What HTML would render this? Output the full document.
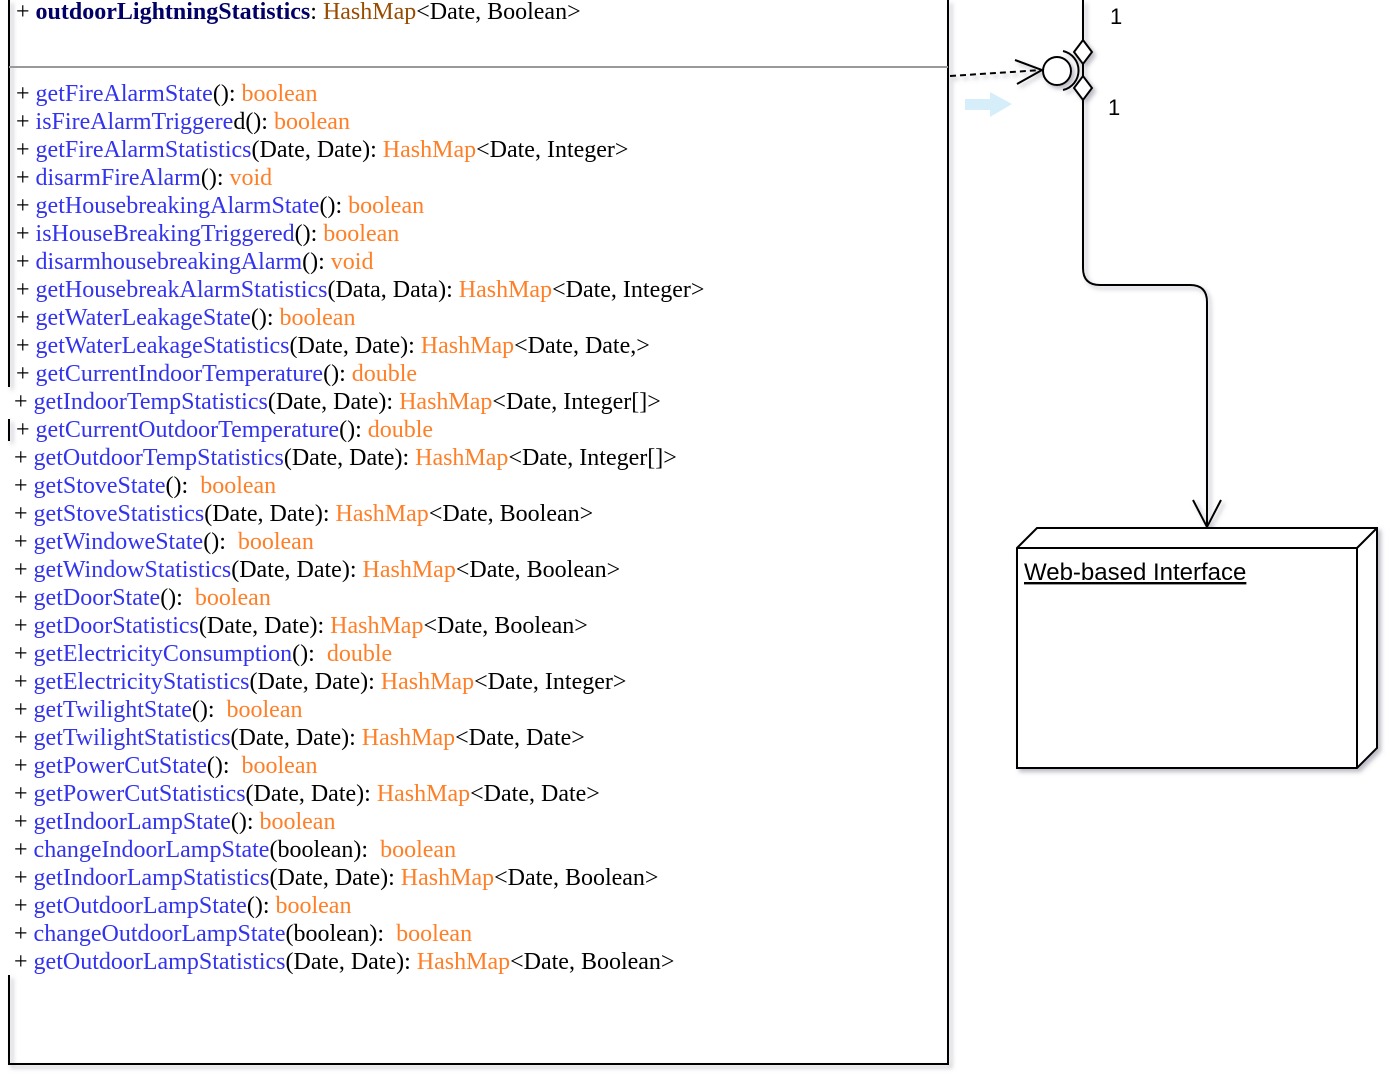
<!DOCTYPE html>
<html><head><meta charset="utf-8"><style>
body{margin:0;width:1390px;height:1082px;background:#fff;position:relative;overflow:hidden}
.t{position:absolute;left:16px;font-family:"Liberation Serif",serif;font-size:24px;white-space:nowrap;line-height:28px}
.m{color:#3333ee}.o{color:#ff7f27}
</style></head><body>
<svg width="1390" height="1082" style="position:absolute;left:0;top:0">
<defs><filter id="sh"><feDropShadow dx="3" dy="3" stdDeviation="2" flood-color="#778" flood-opacity="0.5"/></filter></defs>
<g filter="url(#sh)">
<line x1="948" y1="0" x2="948" y2="1065" stroke="#000" stroke-width="2"/>
<line x1="8" y1="1064" x2="949" y2="1064" stroke="#000" stroke-width="2"/>
<line x1="9" y1="0" x2="9" y2="387" stroke="#000" stroke-width="2"/>
<line x1="9" y1="419" x2="9" y2="441" stroke="#000" stroke-width="2"/>
<line x1="9" y1="975" x2="9" y2="1065" stroke="#000" stroke-width="2"/>
</g>
<line x1="9" y1="67" x2="948" y2="67" stroke="#999" stroke-width="2"/>
<polygon points="965,99 990,99 990,92 1012,104 990,117 990,110 965,110" fill="#d5eefa"/>
<g filter="url(#sh)" fill="none" stroke="#000" stroke-width="2">
<path d="M1083,0 V268 Q1083,285 1100,285 H1190 Q1207,285 1207,302 V527"/>
<path d="M1193,500 L1207,527 L1221,500"/>
<path d="M1083,40 L1092,52 L1083,64 L1074,52 Z" fill="#fff"/>
<path d="M1083,76 L1092,88 L1083,100 L1074,88 Z" fill="#fff"/>
<path d="M1063,51 A20,20 0 0 1 1063,90"/>
<circle cx="1057" cy="71" r="14" fill="#fff"/>
<path d="M950,76 L1042,70" stroke-dasharray="6,4"/>
<path d="M1015,60 L1042,70 L1017,84"/>
<path d="M1017,548 L1037,528 H1377 V748 L1357,768 H1017 Z" fill="#fff"/>
<path d="M1017,548 H1357 V768 M1357,548 L1377,528"/>
</g>
<text x="1110" y="24" font-family="Liberation Sans,sans-serif" font-size="22">1</text>
<text x="1108" y="115" font-family="Liberation Sans,sans-serif" font-size="22">1</text>
<text x="1024" y="580" font-family="Liberation Sans,sans-serif" font-size="24" text-decoration="underline">Web-based Interface</text>
</svg>
<div class="t" style="top:-2px">+ <b style="color:#000066">outdoorLightningStatistics</b>: <span style="color:#994c00">HashMap</span>&lt;Date, Boolean&gt;</div>
<div class="t" style="top:80px">
+ <span class="m">getFireAlarmState</span>(): <span class="o">boolean</span><br>
+ <span class="m">isFireAlarmTriggere</span>d(): <span class="o">boolean</span><br>
+ <span class="m">getFireAlarmStatistics</span>(Date, Date): <span class="o">HashMap</span>&lt;Date, Integer&gt;<br>
+ <span class="m">disarmFireAlarm</span>(): <span class="o">void</span><br>
+ <span class="m">getHousebreakingAlarmState</span>(): <span class="o">boolean</span><br>
+ <span class="m">isHouseBreakingTriggered</span>(): <span class="o">boolean</span><br>
+ <span class="m">disarmhousebreakingAlarm</span>(): <span class="o">void</span><br>
+ <span class="m">getHousebreakAlarmStatistics</span>(Data, Data): <span class="o">HashMap</span>&lt;Date, Integer&gt;<br>
+ <span class="m">getWaterLeakageState</span>(): <span class="o">boolean</span><br>
+ <span class="m">getWaterLeakageStatistics</span>(Date, Date): <span class="o">HashMap</span>&lt;Date, Date,&gt;<br>
+ <span class="m">getCurrentIndoorTemperature</span>(): <span class="o">double</span><br>
<span style="margin-left:-2px">+ <span class="m">getIndoorTempStatistics</span>(Date, Date): <span class="o">HashMap</span>&lt;Date, Integer[]&gt;</span><br>
+ <span class="m">getCurrentOutdoorTemperature</span>(): <span class="o">double</span><br>
<span style="margin-left:-2px">+ <span class="m">getOutdoorTempStatistics</span>(Date, Date): <span class="o">HashMap</span>&lt;Date, Integer[]&gt;</span><br>
<span style="margin-left:-2px">+ <span class="m">getStoveState</span>():&nbsp; <span class="o">boolean</span></span><br>
<span style="margin-left:-2px">+ <span class="m">getStoveStatistics</span>(Date, Date): <span class="o">HashMap</span>&lt;Date, Boolean&gt;</span><br>
<span style="margin-left:-2px">+ <span class="m">getWindoweState</span>():&nbsp; <span class="o">boolean</span></span><br>
<span style="margin-left:-2px">+ <span class="m">getWindowStatistics</span>(Date, Date): <span class="o">HashMap</span>&lt;Date, Boolean&gt;</span><br>
<span style="margin-left:-2px">+ <span class="m">getDoorState</span>():&nbsp; <span class="o">boolean</span></span><br>
<span style="margin-left:-2px">+ <span class="m">getDoorStatistics</span>(Date, Date): <span class="o">HashMap</span>&lt;Date, Boolean&gt;</span><br>
<span style="margin-left:-2px">+ <span class="m">getElectricityConsumption</span>():&nbsp; <span class="o">double</span></span><br>
<span style="margin-left:-2px">+ <span class="m">getElectricityStatistics</span>(Date, Date): <span class="o">HashMap</span>&lt;Date, Integer&gt;</span><br>
<span style="margin-left:-2px">+ <span class="m">getTwilightState</span>():&nbsp; <span class="o">boolean</span></span><br>
<span style="margin-left:-2px">+ <span class="m">getTwilightStatistics</span>(Date, Date): <span class="o">HashMap</span>&lt;Date, Date&gt;</span><br>
<span style="margin-left:-2px">+ <span class="m">getPowerCutState</span>():&nbsp; <span class="o">boolean</span></span><br>
<span style="margin-left:-2px">+ <span class="m">getPowerCutStatistics</span>(Date, Date): <span class="o">HashMap</span>&lt;Date, Date&gt;</span><br>
<span style="margin-left:-2px">+ <span class="m">getIndoorLampState</span>(): <span class="o">boolean</span></span><br>
<span style="margin-left:-2px">+ <span class="m">changeIndoorLampState</span>(boolean):&nbsp; <span class="o">boolean</span></span><br>
<span style="margin-left:-2px">+ <span class="m">getIndoorLampStatistics</span>(Date, Date): <span class="o">HashMap</span>&lt;Date, Boolean&gt;</span><br>
<span style="margin-left:-2px">+ <span class="m">getOutdoorLampState</span>(): <span class="o">boolean</span></span><br>
<span style="margin-left:-2px">+ <span class="m">changeOutdoorLampState</span>(boolean):&nbsp; <span class="o">boolean</span></span><br>
<span style="margin-left:-2px">+ <span class="m">getOutdoorLampStatistics</span>(Date, Date): <span class="o">HashMap</span>&lt;Date, Boolean&gt;</span>
</div>
</body></html>
